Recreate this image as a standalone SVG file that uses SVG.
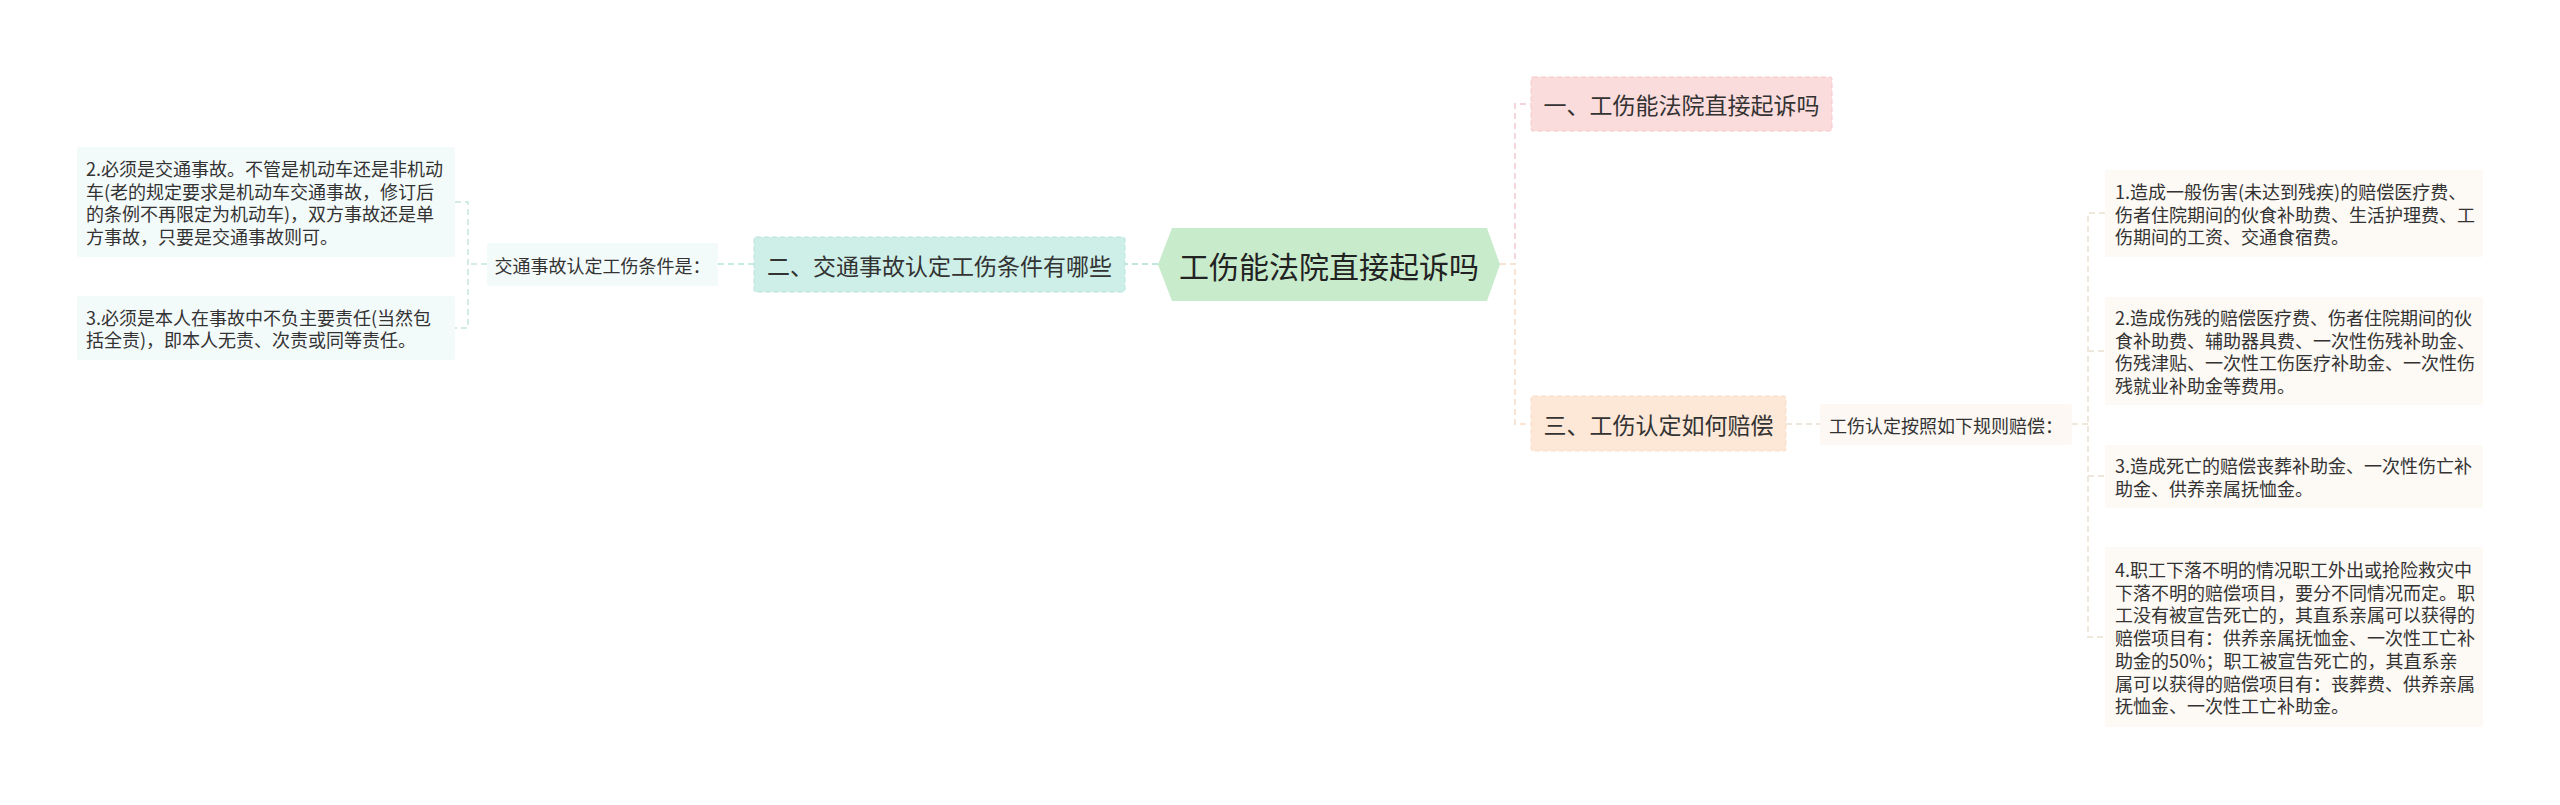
<svg xmlns="http://www.w3.org/2000/svg" width="2560" height="805" viewBox="0 0 2560 805">
<style>
text{font-family:"Noto Sans CJK SC","Noto Sans",sans-serif;fill:#333;dominant-baseline:central}
.c{font-size:30px;fill:#222}
.l1{font-size:23px;fill:#333}
.s{font-size:18px}
.t{font-size:18px}
.con{fill:none;stroke-width:2;stroke-dasharray:6 4}
</style>
<rect width="2560" height="805" fill="#fff"/>
<g id="connectors">
<path class="con" d="M1158,264 H1125" stroke="#bfe7df" stroke-dasharray="none"/>
<path class="con" d="M754,264 H718" stroke="#c9ebe5"/>
<path class="con" d="M487,264 H468 M455,202 H468 V328 H455" stroke="#d3ece8"/>
<path class="con" d="M1500,264 H1515 V104 H1531" stroke="#f4d6da"/>
<path class="con" d="M1500,264 H1515 V424 H1531" stroke="#f9e4d4"/>
<path class="con" d="M1786,424 H1820" stroke="#f1e6db"/>
<path class="con" d="M2072,424 H2088 M2105,213 H2088 V637 H2105 M2088,351 H2105 M2088,476 H2105" stroke="#efe6dc"/>
</g>
<g id="root">
<polygon points="1158,264.5 1172,228 1487,228 1500,264.5 1487,301 1172,301" fill="#c8ebcc"/>
<text class="c" x="1329" y="264.5" text-anchor="middle">工伤能法院直接起诉吗</text>
</g>
<g id="n1">
<rect x="1531" y="77" width="301" height="54" rx="2" fill="#fbdcdc" stroke="#f5c6c9" stroke-dasharray="5 3"/>
<text class="l1" x="1681.5" y="104" text-anchor="middle">一、工伤能法院直接起诉吗</text>
</g>
<g id="n2">
<rect x="754" y="237" width="371" height="55" rx="2" fill="#ceefe8" stroke="#b5e2d9" stroke-dasharray="5 3"/>
<text class="l1" x="939.5" y="264.5" text-anchor="middle">二、交通事故认定工伤条件有哪些</text>
</g>
<g id="n3">
<rect x="1531" y="396" width="255" height="55" rx="2" fill="#fde8d7" stroke="#fbdcc6" stroke-dasharray="5 3"/>
<text class="l1" x="1658.5" y="424" text-anchor="middle">三、工伤认定如何赔偿</text>
</g>
<g id="n2-sub">
<rect x="487" y="243" width="231" height="43" rx="2" fill="#f3fafa"/>
<text class="s" x="602.5" y="264.5" text-anchor="middle">交通事故认定工伤条件是：</text>
</g>
<g id="n2-leaf1">
<rect x="77" y="147" width="378" height="110" rx="2" fill="#f3fafa"/>
<text class="t" x="86" y="168">2.必须是交通事故。不管是机动车还是非机动</text>
<text class="t" x="86" y="190.7">车(老的规定要求是机动车交通事故，修订后</text>
<text class="t" x="86" y="213.4">的条例不再限定为机动车)，双方事故还是单</text>
<text class="t" x="86" y="236.1">方事故，只要是交通事故则可。</text>
</g>
<g id="n2-leaf2">
<rect x="77" y="296" width="378" height="64" rx="2" fill="#f3fafa"/>
<text class="t" x="86" y="316.6">3.必须是本人在事故中不负主要责任(当然包</text>
<text class="t" x="86" y="339.3">括全责)，即本人无责、次责或同等责任。</text>
</g>
<g id="n3-sub">
<rect x="1820" y="404" width="252" height="41" rx="2" fill="#fdf8f3"/>
<text class="s" x="1946" y="424.5" text-anchor="middle">工伤认定按照如下规则赔偿：</text>
</g>
<g id="n3-leaf1">
<rect x="2105" y="170" width="378" height="87" rx="2" fill="#fdf9f4"/>
<text class="t" x="2115" y="191">1.造成一般伤害(未达到残疾)的赔偿医疗费、</text>
<text class="t" x="2115" y="213.7">伤者住院期间的伙食补助费、生活护理费、工</text>
<text class="t" x="2115" y="236.4">伤期间的工资、交通食宿费。</text>
</g>
<g id="n3-leaf2">
<rect x="2105" y="297" width="378" height="108" rx="2" fill="#fdf9f4"/>
<text class="t" x="2115" y="317">2.造成伤残的赔偿医疗费、伤者住院期间的伙</text>
<text class="t" x="2115" y="339.7">食补助费、辅助器具费、一次性伤残补助金、</text>
<text class="t" x="2115" y="362.4">伤残津贴、一次性工伤医疗补助金、一次性伤</text>
<text class="t" x="2115" y="385.1">残就业补助金等费用。</text>
</g>
<g id="n3-leaf3">
<rect x="2105" y="445" width="378" height="63" rx="2" fill="#fdf9f4"/>
<text class="t" x="2115" y="465">3.造成死亡的赔偿丧葬补助金、一次性伤亡补</text>
<text class="t" x="2115" y="487.7">助金、供养亲属抚恤金。</text>
</g>
<g id="n3-leaf4">
<rect x="2105" y="547" width="378" height="180" rx="2" fill="#fdf9f4"/>
<text class="t" x="2115" y="569">4.职工下落不明的情况职工外出或抢险救灾中</text>
<text class="t" x="2115" y="591.7">下落不明的赔偿项目，要分不同情况而定。职</text>
<text class="t" x="2115" y="614.4">工没有被宣告死亡的，其直系亲属可以获得的</text>
<text class="t" x="2115" y="637.1">赔偿项目有：供养亲属抚恤金、一次性工亡补</text>
<text class="t" x="2115" y="659.8">助金的50%；职工被宣告死亡的，其直系亲</text>
<text class="t" x="2115" y="682.5">属可以获得的赔偿项目有：丧葬费、供养亲属</text>
<text class="t" x="2115" y="705.2">抚恤金、一次性工亡补助金。</text>
</g>
</svg>
